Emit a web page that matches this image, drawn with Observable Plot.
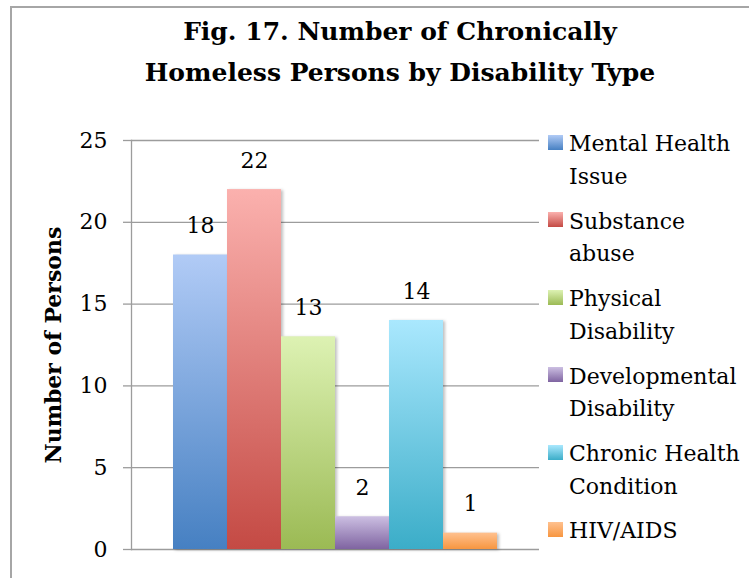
<!DOCTYPE html>
<html>
<head>
<meta charset="utf-8">
<script src="https://cdn.jsdelivr.net/npm/d3@7"></script>
<script src="https://cdn.jsdelivr.net/npm/@observablehq/plot@0.6"></script>
<style>
  html, body { margin: 0; padding: 0; background: #fff; }
  body { width: 749px; height: 578px; overflow: hidden; position: relative; font-family: "DejaVu Serif", serif; }
  #frame { position: absolute; left: 10px; top: 6px; width: 900px; height: 700px; border-left: 2px solid #a6a6a6; border-top: 2px solid #a6a6a6; }
  #title { position: absolute; left: 0; top: 10.5px; width: 800px; text-align: center; font-weight: bold; font-size: 25px; line-height: 41px; color: #000; }
  #ytitle { position: absolute; left: 53px; top: 345px; transform: translate(-50%, -50%) rotate(-90deg); font-weight: bold; font-size: 22px; line-height: 22px; white-space: nowrap; color: #000; }
  #chart { position: absolute; left: 0; top: 0; }
  #legend { position: absolute; left: 548px; top: 128.3px; }
  .item { position: relative; padding-left: 21px; font-size: 22px; line-height: 32.7px; white-space: pre-line; margin-bottom: 12px; color: #000; }
  .sw { position: absolute; left: 0; top: 6.7px; width: 15px; height: 15px; }
  .bar rect { filter: drop-shadow(2px 1px 1.5px rgba(0,0,0,0.25)); }
</style>
</head>
<body>
<svg width="0" height="0" style="position:absolute">
  <defs id="defs"></defs>
</svg>
<div id="frame"></div>
<div id="chart"></div>
<div id="title">Fig. 17. Number of Chronically<br>Homeless Persons by Disability Type</div>
<div id="ytitle">Number of Persons</div>
<div id="legend"></div>
<script>
const categories = ["Mental Health Issue", "Substance abuse", "Physical Disability", "Developmental Disability", "Chronic Health Condition", "HIV/AIDS"];
const legendLabels = ["Mental Health\nIssue", "Substance\nabuse", "Physical\nDisability", "Developmental\nDisability", "Chronic Health\nCondition", "HIV/AIDS"];
const values = [18, 22, 13, 2, 14, 1];
const yTicks = [0, 5, 10, 15, 20, 25];
const topColors = ["#b1cbf6", "#fbb1ae", "#ddf2b3", "#ccbfe2", "#aae8fe", "#ffc18f"];
const bottomColors = ["#4680c2", "#c44a44", "#9bba54", "#7f64a1", "#3badc8", "#f79640"];

const data = categories.map((c, i) => ({cat: c, value: values[i]}));

// gradients
const defs = d3.select("#defs");
const gradientUrls = categories.map((c, i) => {
  const g = defs.append("linearGradient").attr("id", "g" + i)
    .attr("x1", 0).attr("y1", 0).attr("x2", 0).attr("y2", 1);
  g.append("stop").attr("offset", "0%").attr("stop-color", topColors[i]);
  g.append("stop").attr("offset", "100%").attr("stop-color", bottomColors[i]);
  return `url(#g${i})`;
});

const chart = Plot.plot({
  width: 749,
  height: 578,
  marginTop: 140,
  marginBottom: 29,
  marginLeft: 131,
  marginRight: 210,
  x: {domain: categories, paddingInner: 0, paddingOuter: 0.75, axis: null},
  y: {domain: [0, 25], ticks: yTicks},
  color: {domain: categories, range: gradientUrls},
  style: {fontFamily: "DejaVu Serif", fontSize: "22px", color: "#000", background: "transparent", overflow: "visible"},
  marks: [
    Plot.gridY(yTicks, {stroke: "#9c9c9c", strokeOpacity: 1, strokeWidth: 1.3}),
    Plot.axisY(yTicks, {tickSize: 8, tickPadding: 16, stroke: "#9c9c9c", strokeWidth: 1.3, label: null, fontSize: 22, tickFormat: d => String(d)}),
    Plot.frame({anchor: "left", stroke: "#9c9c9c", strokeWidth: 1.3}),
    Plot.barY(data, {x: "cat", y: "value", fill: "cat", className: "bar"}),
    Plot.text(data, {x: "cat", y: "value", text: d => String(d.value), dy: -29, lineAnchor: "middle", fontSize: 22, fill: "#000"})
  ]
});
document.getElementById("chart").appendChild(chart);

// legend
const legend = d3.select("#legend");
legendLabels.forEach((lab, i) => {
  const item = legend.append("div").attr("class", "item");
  item.append("div").attr("class", "sw")
    .style("background", `linear-gradient(to bottom, ${topColors[i]}, ${bottomColors[i]})`);
  item.append("span").text(lab);
});
</script>
</body>
</html>
